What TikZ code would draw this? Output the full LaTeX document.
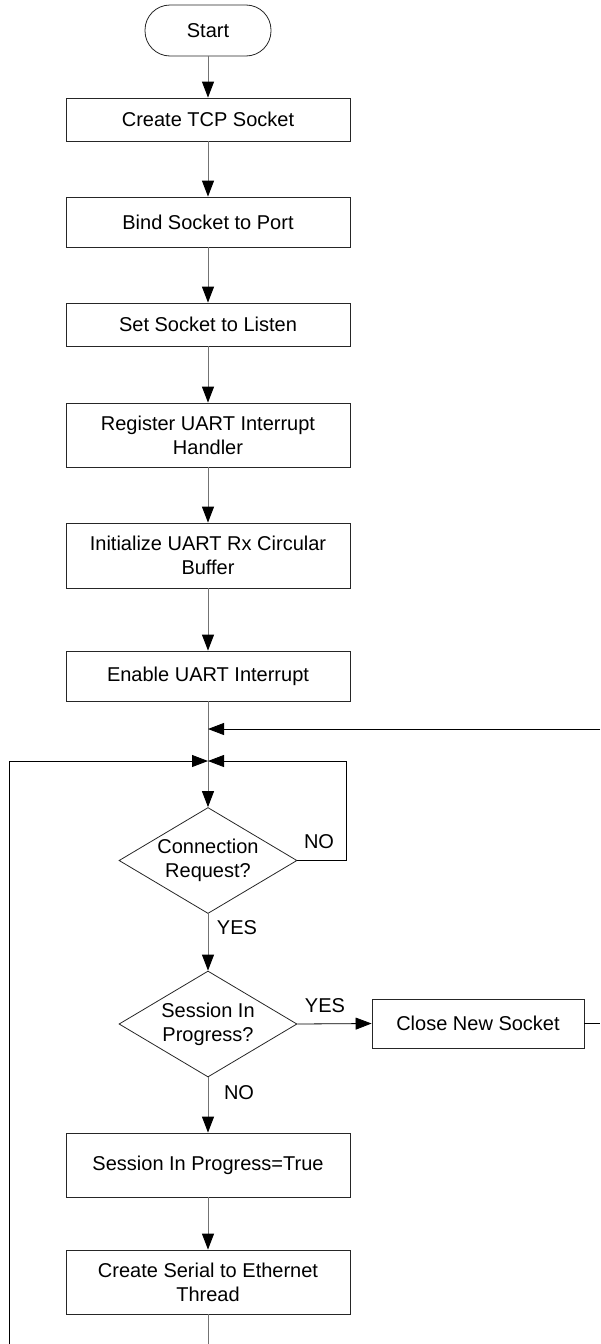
\documentclass[tikz,border=0pt]{standalone}
\usepackage{fontspec}
\setmainfont{Liberation Sans}
\usetikzlibrary{arrows.meta,shapes.geometric}
\begin{document}
\begin{tikzpicture}[x=1pt,y=-1pt,
  every node/.style={font=\fontsize{20}{24}\selectfont},
  box/.style={draw=black!85, line width=0.8pt, rectangle, minimum width=284pt, inner sep=0pt, align=center},
  term/.style={draw=black!85, line width=0.8pt, rectangle, rounded corners=25pt, minimum width=126pt, minimum height=51pt, inner sep=0pt},
  dec/.style={draw=black!85, line width=0.8pt, diamond, aspect=1.68, minimum width=178pt, minimum height=106pt, inner sep=0pt, align=center},
  tip/.style={-{Triangle[length=16pt,width=12pt,color=black]}},
  flow/.style={draw=black!55, line width=1pt, tip},
  vline/.style={draw=black!55, line width=1pt},
  backline/.style={draw=black, line width=0.8pt},
  backarrow/.style={backline, tip},
  lbl/.style={inner sep=0pt}
]
\useasboundingbox (0,0) rectangle (600,1344);

\node[term] (start) at (208,30.5) {Start};
\node[box, minimum height=43pt] (tcp) at (208,119.5) {Create TCP Socket};
\node[box, minimum height=50pt] (bind) at (208,222) {Bind Socket to Port};
\node[box, minimum height=43pt] (listen) at (208,324.5) {Set Socket to Listen};
\node[box, minimum height=64pt] (reg) at (208,435) {Register UART Interrupt\\Handler};
\node[box, minimum height=65pt] (init) at (208,555.5) {Initialize UART Rx Circular\\Buffer};
\node[box, minimum height=50pt] (enable) at (208,676) {Enable UART Interrupt};
\coordinate (j1) at (208,729);
\coordinate (j2) at (208,761);
\node[dec] (conn) at (208,860.5) {Connection\\Request?};
\node[dec] (sess) at (208,1024) {Session In\\Progress?};
\node[box, minimum width=212pt, minimum height=49pt] (close) at (478,1023.5) {Close New Socket};
\node[box, minimum height=64pt] (true) at (208,1165) {Session In Progress=True};
\node[box, minimum height=64pt] (serial) at (208,1282) {Create Serial to Ethernet\\Thread};

\coordinate (rin) at (600,729);
\coordinate (rout) at (600,1023.5);
\coordinate (bot) at (208,1344);
\coordinate (lb) at (9,1344);
\coordinate (lt) at (9,761);
\coordinate (nr) at (346.5,860.5);
\coordinate (nt) at (346.5,761);

\draw[flow] (start) -- (tcp);
\draw[flow] (tcp) -- (bind);
\draw[flow] (bind) -- (listen);
\draw[flow] (listen) -- (reg);
\draw[flow] (reg) -- (init);
\draw[flow] (init) -- (enable);
\draw[flow] (enable) -- (conn);
\draw[flow] (conn) -- (sess);
\draw[flow] (sess) -- (true);
\draw[flow] (true) -- (serial);
\draw[vline] (serial) -- (bot);

\draw[backarrow] (rin) -- (j1);
\draw[backarrow] (lb) -- (lt) -- (j2);
\draw[backarrow] (conn.east) -- (nr) -- (nt) -- (j2);
\draw[backarrow] (sess.east) -- (close.west);
\draw[backline] (close.east) -- (rout);

\node[lbl] (lno) at (319,842) {NO};
\node[lbl] (lyes) at (237,928) {YES};
\node[lbl] (lyes2) at (325,1006) {YES};
\node[lbl] (lno2) at (239,1093) {NO};
\end{tikzpicture}
\end{document}
